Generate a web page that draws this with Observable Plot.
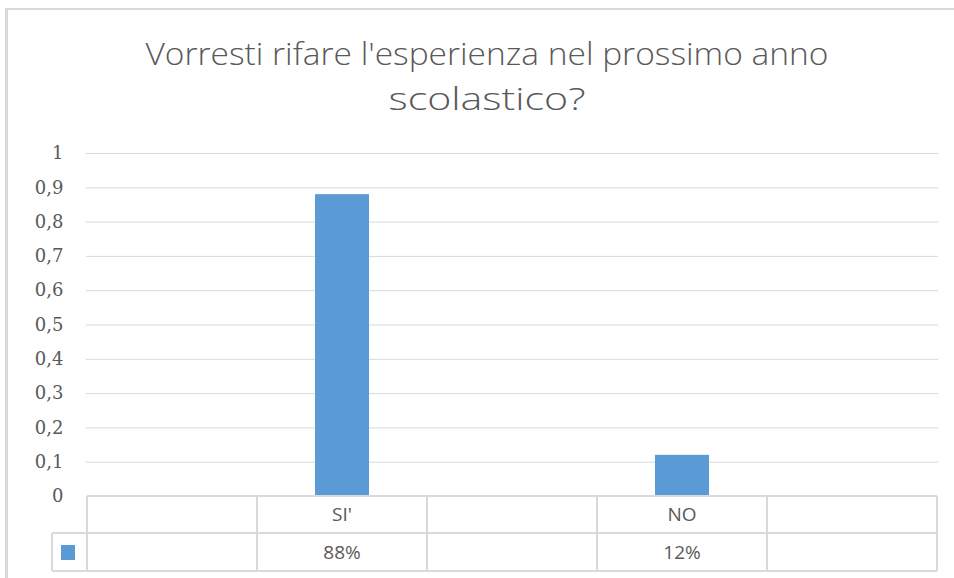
<!DOCTYPE html>
<html>
<head>
<meta charset="utf-8">
<script src="https://cdn.jsdelivr.net/npm/d3@7"></script>
<script src="https://cdn.jsdelivr.net/npm/@observablehq/plot@0.6"></script>
<style>
  html, body { margin: 0; padding: 0; background: white; }
  #chart { width: 954px; height: 578px; overflow: hidden; }
</style>
</head>
<body>
<div id="chart"></div>
<script>
const titleLines = ["Vorresti rifare l'esperienza nel prossimo anno", "scolastico?"];
const categories = ["", "SI'", "", "NO", ""];
const values = [null, 0.88, null, 0.12, null];
const valueLabels = ["", "88%", "", "12%", ""];
const yTicks = [0, 0.1, 0.2, 0.3, 0.4, 0.5, 0.6, 0.7, 0.8, 0.9, 1];
const yTickLabels = ["0", "0,1", "0,2", "0,3", "0,4", "0,5", "0,6", "0,7", "0,8", "0,9", "1"];

const data = categories.map((c, i) => ({i, c, v: values[i]})).filter(d => d.v != null);

const chart = Plot.plot({
  width: 954,
  height: 578,
  marginTop: 153,
  marginBottom: 82,
  marginLeft: 86,
  marginRight: 16,
  style: {background: "white", color: "#595959", fontFamily: "DejaVu Serif", fontSize: "18px", overflow: "visible"},
  x: {domain: d3.range(categories.length), paddingInner: 0.683, paddingOuter: 0.3415, axis: null},
  y: {domain: [0, 1], axis: null},
  marks: [
    Plot.gridY(yTicks, {stroke: "#d9d9d9", strokeOpacity: 1, strokeWidth: 1}),
    Plot.axisY(yTicks, {tickSize: 0, tickPadding: 23, fontSize: 18, fontFamily: "DejaVu Serif", fill: "#595959",
      label: null, tickFormat: d => yTickLabels[yTicks.indexOf(d)]}),
    Plot.barY(data, {x: "i", y: "v", fill: "#5b9bd5"})
  ]
});

document.getElementById("chart").appendChild(chart);

const svg = d3.select(chart);
const xs = chart.scale("x");
const ys = chart.scale("y");
const step = xs.step, bw = xs.bandwidth;
const y0 = ys.apply(0);
const row1 = y0 + 37, row2 = y0 + 75;
const lefts = categories.map((c, i) => xs.apply(i) + bw / 2 - step / 2);
const x0 = lefts[0], x1 = lefts[lefts.length - 1] + step;
const legendLeft = x0 - 35;
const grey = "#d9d9d9";

// chart frame
svg.append("line").attr("x1", 6.5).attr("x2", 6.5).attr("y1", 8).attr("y2", 578).attr("stroke", grey).attr("stroke-width", 3);
svg.append("line").attr("x1", 5).attr("x2", 954).attr("y1", 9).attr("y2", 9).attr("stroke", grey).attr("stroke-width", 2);

// title
const tl = svg.append("g").attr("fill", "#595959").attr("font-family", "Open Sans").attr("font-weight", 300).attr("font-size", 32).attr("text-anchor", "middle");
tl.append("text").attr("x", 487).attr("y", 65).attr("textLength", 683).attr("lengthAdjust", "spacingAndGlyphs").text(titleLines[0]);
tl.append("text").attr("x", 487).attr("y", 110).attr("textLength", 197).attr("lengthAdjust", "spacingAndGlyphs").text(titleLines[1]);

// data table
const tg = svg.append("g").attr("stroke", grey).attr("stroke-width", 1.5).attr("shape-rendering", "crispEdges");
tg.append("line").attr("x1", x0).attr("x2", x1).attr("y1", y0).attr("y2", y0);
tg.append("line").attr("x1", legendLeft).attr("x2", x1).attr("y1", row1).attr("y2", row1);
tg.append("line").attr("x1", legendLeft).attr("x2", x1).attr("y1", row2).attr("y2", row2);
lefts.concat([x1]).forEach((x, k) => {
  tg.append("line").attr("x1", x).attr("x2", x).attr("y1", y0).attr("y2", row2)
    .attr("stroke-width", k === lefts.length ? 2.5 : 1.5);
});
tg.append("line").attr("x1", legendLeft).attr("x2", legendLeft).attr("y1", row1).attr("y2", row2);

svg.append("rect").attr("x", legendLeft + 9).attr("y", row1 + 12).attr("width", 14).attr("height", 15).attr("fill", "#5b9bd5");

const txt = svg.append("g").attr("fill", "#595959").attr("font-family", "Open Sans").attr("font-size", 19).attr("text-anchor", "middle");
categories.forEach((c, i) => {
  const cx = lefts[i] + step / 2;
  txt.append("text").attr("x", cx).attr("y", (y0 + row1) / 2).attr("dy", "0.35em").text(c);
  txt.append("text").attr("x", cx).attr("y", (row1 + row2) / 2).attr("dy", "0.35em").text(valueLabels[i]);
});
</script>
</body>
</html>
